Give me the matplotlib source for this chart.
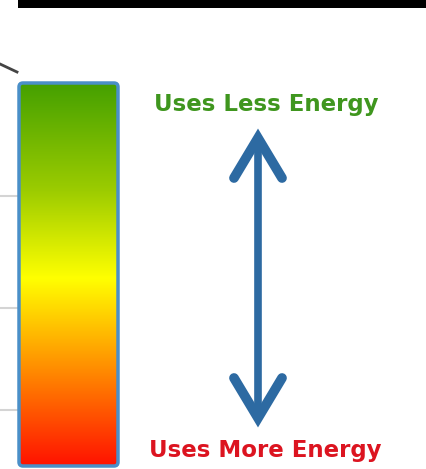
import numpy as np
import matplotlib.pyplot as plt
from matplotlib.colors import LinearSegmentedColormap
from matplotlib.patches import FancyBboxPatch, Rectangle

# 渐变色条的颜色节点（0 为顶部，1 为底部）
stop_pos = [0.0, 0.28, 0.51, 0.72, 1.0]
stop_colors = ['#45a000', '#9ccc00', '#ffff00', '#ff9a00', '#ff1200']

# 文字标签
top_label = 'Uses Less Energy'
bottom_label = 'Uses More Energy'
top_color = '#3f961e'
bottom_color = '#dc1420'

# 左侧残留的灰色网格线（像素 y 位置）
grid_y = [196, 308, 410]

W, H = 426, 469
fig = plt.figure(figsize=(W / 100, H / 100), dpi=100)
ax = fig.add_axes([0, 0, 1, 1])
ax.set_xlim(0, W)
ax.set_ylim(H, 0)
ax.axis('off')

# 顶部黑条
ax.add_patch(Rectangle((18, 0), W - 18, 8, color='black', lw=0))

# 左侧灰线和斜线
for gy in grid_y:
    ax.plot([0, 17], [gy, gy], color='#d4d4d4', lw=1.5)
ax.plot([0, 17], [64, 72], color='#444444', lw=2)

# 渐变色条
cmap = LinearSegmentedColormap.from_list('energy', list(zip(stop_pos, stop_colors)))
grad = np.linspace(0, 1, 256).reshape(-1, 1)
x0, x1, y0, y1 = 19, 118, 83, 466
ax.imshow(grad, cmap=cmap, aspect='auto', extent=(x0, x1, y1, y0), zorder=1)
ax.add_patch(FancyBboxPatch((x0, y0), x1 - x0, y1 - y0,
                            boxstyle='round,pad=0,rounding_size=4',
                            fill=False, ec='#4a8fc8', lw=2.5, zorder=2))

# 双向箭头
ac = '#2d6aa2'
ax_x, top_y, bot_y = 258, 138, 418
ax.plot([ax_x, ax_x], [top_y + 4, bot_y - 4], color=ac, lw=5.5, solid_capstyle='butt')
ax.plot([234, ax_x, 282], [178, top_y, 178], color=ac, lw=7,
        solid_capstyle='round', solid_joinstyle='miter')
ax.plot([234, ax_x, 282], [378, bot_y, 378], color=ac, lw=7,
        solid_capstyle='round', solid_joinstyle='miter')

# 文字
ax.text(266, 104, top_label, color=top_color, fontsize=16.5, fontweight='bold',
        ha='center', va='center', family='DejaVu Sans')
ax.text(265, 451, bottom_label, color=bottom_color, fontsize=16.5, fontweight='bold',
        ha='center', va='center', family='DejaVu Sans')

fig.savefig('out.png', dpi=100)
